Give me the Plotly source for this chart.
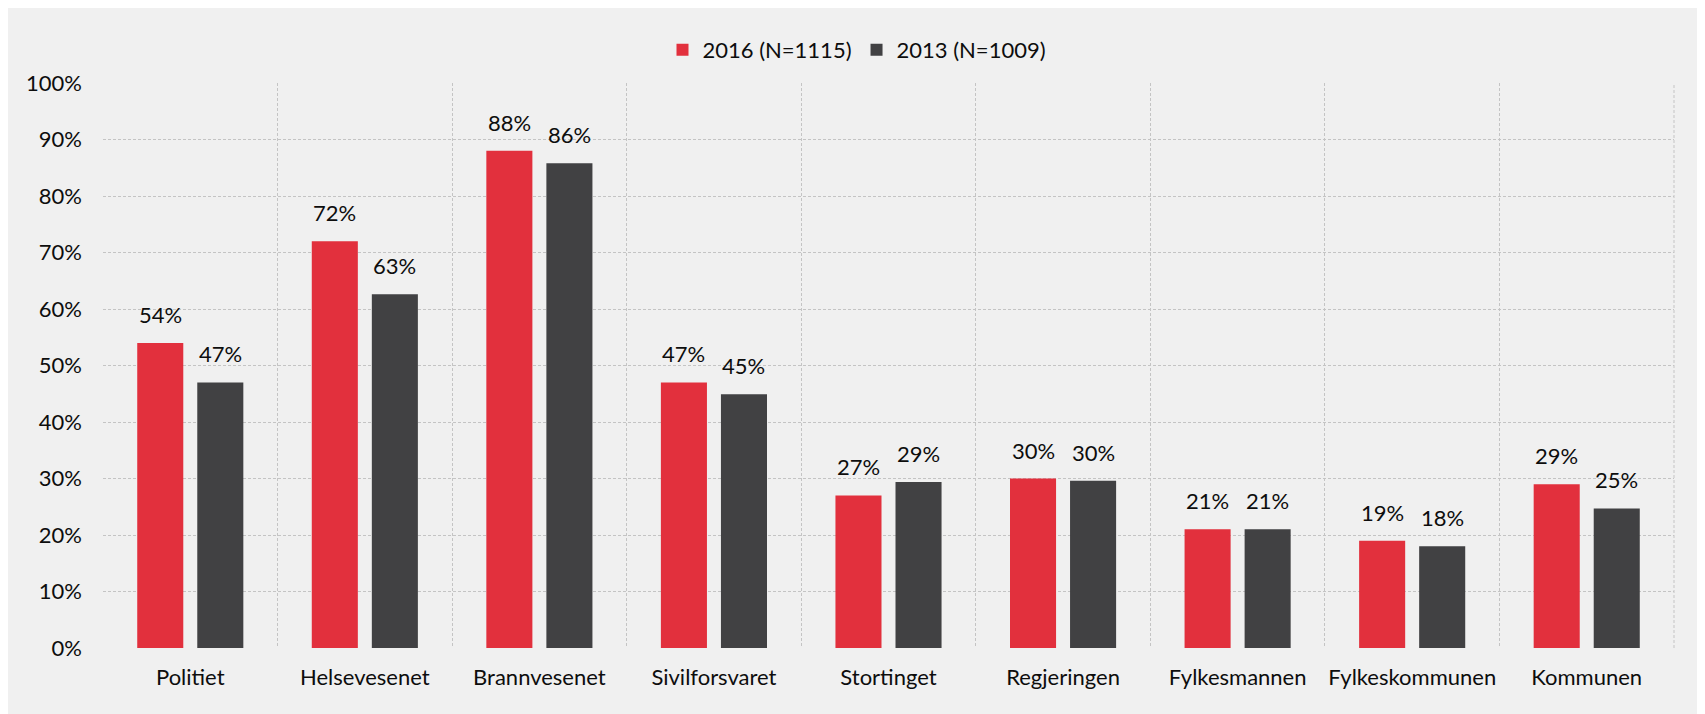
import plotly.graph_objects as go

categories = ["Politiet", "Helsevesenet", "Brannvesenet", "Sivilforsvaret", "Stortinget",
              "Regjeringen", "Fylkesmannen", "Fylkeskommunen", "Kommunen"]
values_2016 = [54, 72, 88, 47, 27, 30, 21, 19, 29]
values_2013 = [47, 62.6, 85.8, 44.9, 29.4, 29.6, 21, 18, 24.7]
series_names = ["2016 (N=1115)", "2013 (N=1009)"]
y_ticks = [0, 10, 20, 30, 40, 50, 60, 70, 80, 90, 100]
y_tick_labels = [f"{v}%" for v in y_ticks]

RED = "#e2303d"
DARK = "#414143"
BG = "#f0f0f0"
GRID = "#c4c4c4"
TXT = "#0d0d0d"
FONT = "Lato"
FS = 22

# page has an 8px body margin; figure fills the rest of the 1705x714 window
W, H = 1697, 706
ML, MR, MT, MB = 95, 31, 75, 66
PW, PH = W - ML - MR, H - MT - MB

fig = go.Figure()
fig.add_trace(go.Bar(x=categories, y=values_2016, name=series_names[0],
                     marker=dict(color=RED, line=dict(width=0))))
fig.add_trace(go.Bar(x=categories, y=values_2013, name=series_names[1],
                     marker=dict(color=DARK, line=dict(width=0))))

bargap = 0.312
cat_px = PW / len(categories)
off = (1 - bargap) * cat_px / 4

annotations = []
for vals, sh in ((values_2016, -off), (values_2013, off)):
    for c, v in zip(categories, vals):
        annotations.append(dict(x=c, y=v, xref="x", yref="y", text=f"{round(v)}%",
                                showarrow=False, xshift=sh, yshift=13, yanchor="bottom",
                                font=dict(family=FONT, size=FS, color=TXT)))

def px_x(p):
    return (p - ML) / PW

def px_y(p):
    return (H - MB - p) / PH

shapes = [
    dict(type="line", xref="paper", yref="paper", x0=1, x1=1, y0=0, y1=1,
         line=dict(color=GRID, width=1, dash="3px,2px"), layer="below"),
]

fig.update_layout(
    width=W, height=H,
    margin=dict(l=ML, r=MR, t=MT, b=MB, pad=0, autoexpand=False),
    paper_bgcolor=BG, plot_bgcolor=BG,
    barmode="group", bargap=bargap, bargroupgap=0.233,
    font=dict(family=FONT, size=FS, color=TXT),
    legend=dict(orientation="h", x=px_x(849), xanchor="center", y=px_y(42), yanchor="middle",
                font=dict(family=FONT, size=FS, color=TXT), bgcolor="rgba(0,0,0,0)",
                itemwidth=30),
    xaxis=dict(showgrid=True, gridcolor=GRID, griddash="3px,2px", gridwidth=1,
               tickson="boundaries", ticks="", showline=False, zeroline=False,
               tickangle=0, automargin=False,
               ticklabelstandoff=14, tickfont=dict(family=FONT, size=FS, color=TXT)),
    yaxis=dict(range=[0, 100], tickvals=y_ticks, ticktext=y_tick_labels,
               showgrid=True, gridcolor=GRID, griddash="3px,2px", gridwidth=1,
               zeroline=False, showline=False, ticks="", ticklabelstandoff=20,
               automargin=False,
               tickfont=dict(family=FONT, size=FS, color=TXT)),
    annotations=annotations,
    shapes=shapes,
)

fig.write_html("out.html")
